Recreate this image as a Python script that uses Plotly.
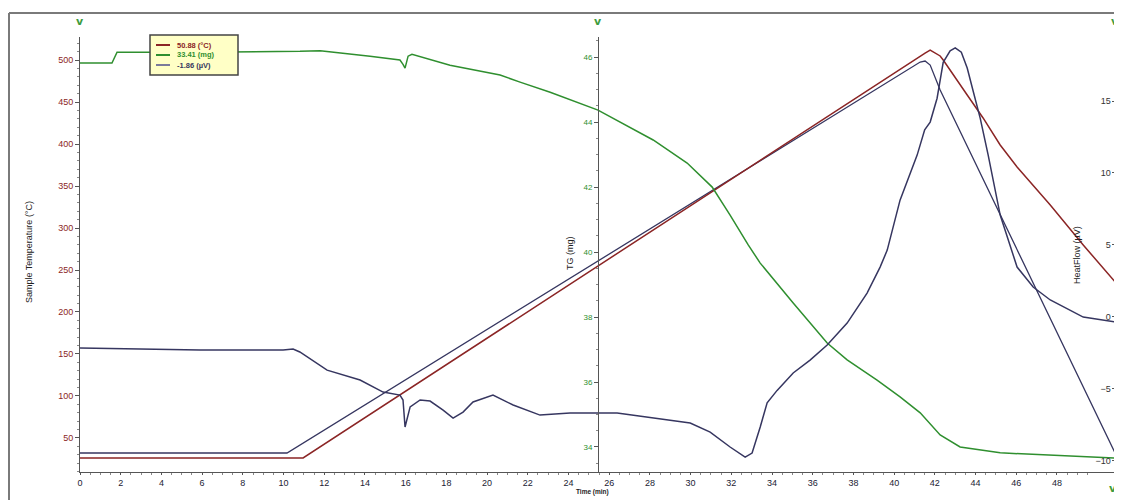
import plotly.graph_objects as go

# ---------------- data ----------------
sample_time = [0, 10.96, 41.52, 41.77, 42.26, 42.41, 43.59, 44.37, 45.21, 46.04, 47.67, 49.29, 50.9]
sample_temp = [26.2, 26.2, 508.3, 511.9, 504.8, 500.0, 458.3, 431.0, 398.8, 372.6, 327.4, 279.8, 234.5]

ref_time = [0, 10.17, 41.28, 41.52, 41.77, 42.26, 50.9]
ref_temp = [32.1, 32.1, 497.6, 498.8, 494.0, 464.3, 29.8]

tg_time = [0, 1.57, 1.82, 5.9, 10.81, 11.8, 14.25, 15.72, 15.87, 15.97, 16.12, 16.31, 18.18,
           20.64, 21.62, 23.1, 25.45, 28.16, 29.83, 31.06, 31.94, 32.83, 33.42, 35.04, 36.71,
           37.69, 39.16, 40.29, 41.28, 42.26, 43.24, 45.21, 50.9]
tg_mass = [45.82, 45.82, 46.15, 46.15, 46.18, 46.2, 46.03, 45.91, 45.78, 45.66, 46.03, 46.09, 45.75,
           45.45, 45.23, 44.92, 44.37, 43.45, 42.74, 42.0, 41.14, 40.22, 39.66, 38.43, 37.2,
           36.68, 36.06, 35.54, 35.05, 34.37, 34.0, 33.82, 33.66]

hf_time = [0, 1.97, 5.9, 9.98, 10.47, 10.8, 12.14, 13.76, 14.89, 15.72, 15.87, 15.97, 16.12, 16.22,
           16.71, 17.2, 17.84, 18.33, 18.82, 19.31, 20.29, 21.28, 22.6, 24.08, 26.39, 28.16, 29.98,
           30.96, 31.94, 32.68, 33.02, 33.42, 33.76, 34.25, 35.04, 35.87, 36.71, 37.69, 38.67,
           39.31, 39.66, 40.29, 40.54, 41.13, 41.5, 41.77, 42.11, 42.41, 42.75, 43.0, 43.3, 43.59,
           43.9, 44.23, 44.62, 44.9, 45.21, 46.04, 46.83, 47.67, 49.29, 50.9]
hf_flow = [-2.19, -2.25, -2.32, -2.32, -2.25, -2.46, -3.72, -4.41, -5.25, -5.46, -5.80, -7.68, -6.85,
           -6.28, -5.80, -5.87, -6.5, -7.06, -6.64, -5.94, -5.46, -6.15, -6.85, -6.71, -6.71, -7.06,
           -7.40, -8.03, -9.07, -9.77, -9.49, -7.68, -6.0, -5.13, -3.92, -3.02, -1.97, -0.45, 1.64,
           3.45, 4.63, 8.11, 9.02, 11.24, 13.0, 13.54, 15.2, 17.7, 18.5, 18.7, 18.4, 17.3,
           15.6, 13.8, 11.24, 9.3, 7.07, 3.45, 2.06, 1.16, -0.03, -0.38]

x_ticks = list(range(0, 51, 2))
temp_ticks = list(range(50, 501, 50))
tg_ticks = list(range(34, 47, 2))
hf_ticks = [-10, -5, 0, 5, 10, 15]

legend_labels = ["50.88 (°C)", "33.41 (mg)", "-1.86 (µV)"]

# ---------------- style ----------------
RED = "#8b2525"
GREEN = "#2f8f2f"
NAVY = "#363660"
AX = "#555555"
FONT = "Liberation Sans, Arial, sans-serif"

fig = go.Figure()
fig.add_trace(go.Scatter(x=ref_time, y=ref_temp, mode="lines", yaxis="y",
                         line=dict(color=NAVY, width=1.3), showlegend=False))
fig.add_trace(go.Scatter(x=sample_time, y=sample_temp, mode="lines", yaxis="y",
                         line=dict(color=RED, width=1.5), name=legend_labels[0]))
fig.add_trace(go.Scatter(x=tg_time, y=tg_mass, mode="lines", yaxis="y2",
                         line=dict(color=GREEN, width=1.5), name=legend_labels[1]))
fig.add_trace(go.Scatter(x=hf_time, y=hf_flow, mode="lines", yaxis="y3",
                         line=dict(color=NAVY, width=1.5), name=legend_labels[2]))

common = dict(showgrid=False, zeroline=False, showline=True, linecolor=AX, linewidth=1,
              tickcolor=AX, ticklen=4)

# page body has an 8px margin, so the figure is 8px smaller and margins shifted by 8px
fig.update_layout(
    width=1114, height=492,
    margin=dict(l=72, r=6, t=29, b=28),
    paper_bgcolor="white", plot_bgcolor="white",
    showlegend=False,
    font=dict(family=FONT, size=9, color="#222"),
    xaxis=dict(range=[0, 50.9], tickvals=x_ticks, ticks="outside",
               tickfont=dict(size=9, color="#223"),
               minor=dict(ticks="outside", ticklen=2, dtick=0.5, tickcolor="#888"),
               showgrid=False, zeroline=False, showline=True, linecolor=AX, linewidth=1,
               tickcolor=AX, ticklen=2),
    yaxis=dict(range=[9.5, 527.4], tickvals=temp_ticks, ticks="outside",
               tickfont=dict(size=9, color=RED),
               minor=dict(ticks="outside", ticklen=2, dtick=10, tickcolor="#888"),
               **common),
    yaxis2=dict(range=[33.23, 46.62], tickvals=tg_ticks, ticks="outside",
                overlaying="y", anchor="free", position=0.5, side="left",
                tickfont=dict(size=8, color=GREEN),
                minor=dict(ticks="outside", ticklen=2, dtick=0.5, tickcolor="#888"),
                **common),
    yaxis3=dict(range=[-10.81, 19.46], tickvals=hf_ticks, ticks="inside",
                overlaying="y", anchor="x", side="right", ticklabelposition="inside",
                tickfont=dict(size=9, color="#333"),
                minor=dict(ticks="inside", ticklen=2, dtick=1, tickcolor="#888"),
                **common),
)

def xp(px):
    return (px - 80) / 1036.0

def yp(py):
    return (472 - py) / 435.0

shapes = []
annotations = []

# outer frame (top and left edges)
shapes.append(dict(type="line", xref="paper", yref="paper", x0=xp(9), x1=xp(1122), y0=yp(13), y1=yp(13),
                   line=dict(color="#7a7a7a", width=2)))
shapes.append(dict(type="line", xref="paper", yref="paper", x0=xp(9), x1=xp(9), y0=yp(13), y1=yp(500),
                   line=dict(color="#7a7a7a", width=2)))

# legend box
shapes.append(dict(type="rect", xref="paper", yref="paper", x0=xp(150), x1=xp(238), y0=yp(75), y1=yp(35),
                   fillcolor="#ffffc6", line=dict(color="#444", width=1.5), layer="above"))
leg_colors = [RED, GREEN, "#7a7a9a"]
txt_colors = [RED, GREEN, NAVY]
for i, (lab, lc, tc) in enumerate(zip(legend_labels, leg_colors, txt_colors)):
    py = 45 + 10 * i
    shapes.append(dict(type="line", xref="paper", yref="paper", x0=xp(156), x1=xp(170), y0=yp(py), y1=yp(py),
                       line=dict(color=lc, width=2), layer="above"))
    annotations.append(dict(xref="paper", yref="paper", x=xp(175), y=yp(py), text="<b>%s</b>" % lab,
                            showarrow=False, xanchor="left", yanchor="middle",
                            font=dict(size=7.5, color=tc, family=FONT)))

# axis titles
annotations.append(dict(xref="paper", yref="paper", x=xp(22), y=yp(252), text="Sample Temperature (°C)",
                        textangle=-90, showarrow=False, font=dict(size=9, color="#222", family=FONT)))
annotations.append(dict(xref="paper", yref="paper", x=xp(570), y=yp(253), text="TG (mg)",
                        textangle=-90, showarrow=False, font=dict(size=9, color="#222", family=FONT)))
annotations.append(dict(xref="paper", yref="paper", x=xp(1084), y=yp(255), text="HeatFlow (µV)",
                        textangle=-90, showarrow=False, font=dict(size=9, color="#222", family=FONT)))
annotations.append(dict(xref="paper", yref="paper", x=xp(592), y=yp(496.5), text="<b>Time (min)</b>",
                        showarrow=False, font=dict(size=6.5, color="#222", family=FONT),
                        borderpad=0))

# green axis markers
for (mx, my) in [(80, 22), (598, 22), (1115, 22), (1113, 488)]:
    annotations.append(dict(xref="paper", yref="paper", x=xp(mx), y=yp(my), text="<b>v</b>",
                            showarrow=False, xanchor="center", yanchor="middle",
                            font=dict(size=11, color="#3c9c3c", family="DejaVu Sans")))

fig.update_layout(shapes=shapes, annotations=annotations)
fig.write_html("out.html")
